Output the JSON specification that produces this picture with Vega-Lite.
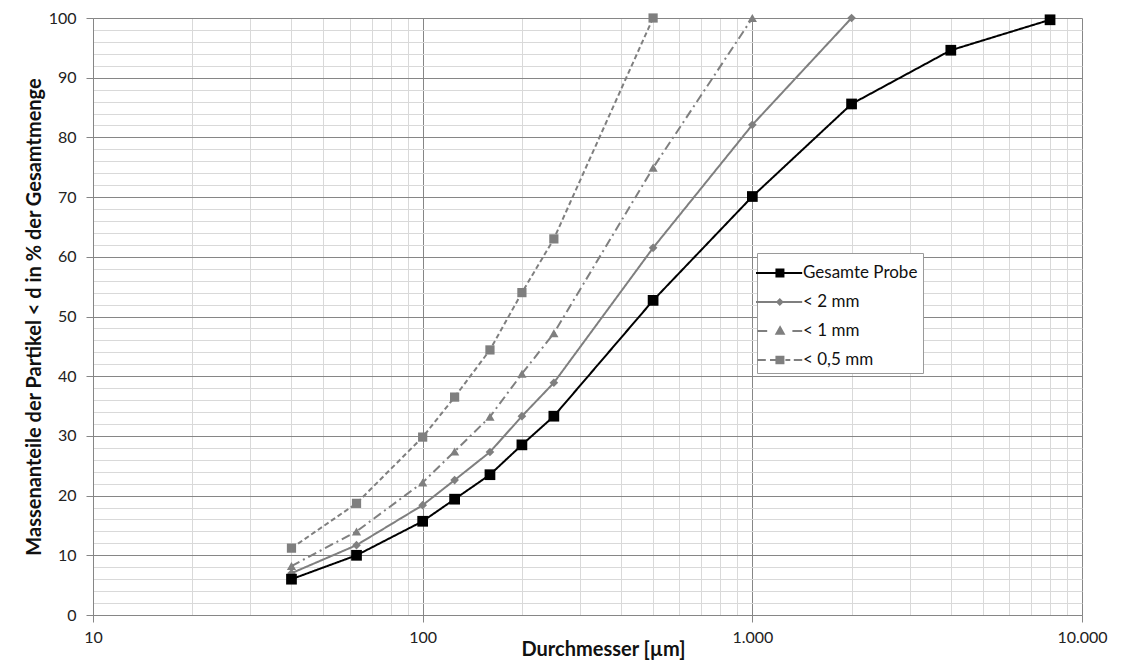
{
  "$schema": "https://vega.github.io/schema/vega-lite/v6.json",
  "autosize": "none",
  "width": 989,
  "height": 597,
  "padding": {"left": 93, "top": 18, "right": 43, "bottom": 49},
  "background": "white",
  "config": {
    "font": "Lato",
    "view": {"stroke": null},
    "axis": {
      "labelFont": "Lato",
      "titleFont": "Lato",
      "labelFontSize": 16,
      "labelColor": "#222222",
      "titleFontSize": 20,
      "titleFontWeight": "bold",
      "titleColor": "#111111",
      "domainColor": "#868686",
      "tickColor": "#868686",
      "tickSize": 7
    }
  },
  "data": {
    "values": [
      {"d": 40, "p": 6.0, "s": "Gesamte Probe"},
      {"d": 63, "p": 10.0, "s": "Gesamte Probe"},
      {"d": 100, "p": 15.7, "s": "Gesamte Probe"},
      {"d": 125, "p": 19.4, "s": "Gesamte Probe"},
      {"d": 160, "p": 23.5, "s": "Gesamte Probe"},
      {"d": 200, "p": 28.5, "s": "Gesamte Probe"},
      {"d": 250, "p": 33.3, "s": "Gesamte Probe"},
      {"d": 500, "p": 52.7, "s": "Gesamte Probe"},
      {"d": 1000, "p": 70.1, "s": "Gesamte Probe"},
      {"d": 2000, "p": 85.6, "s": "Gesamte Probe"},
      {"d": 4000, "p": 94.6, "s": "Gesamte Probe"},
      {"d": 8000, "p": 99.7, "s": "Gesamte Probe"},
      {"d": 40, "p": 7.0, "s": "< 2 mm"},
      {"d": 63, "p": 11.7, "s": "< 2 mm"},
      {"d": 100, "p": 18.4, "s": "< 2 mm"},
      {"d": 125, "p": 22.6, "s": "< 2 mm"},
      {"d": 160, "p": 27.3, "s": "< 2 mm"},
      {"d": 200, "p": 33.3, "s": "< 2 mm"},
      {"d": 250, "p": 38.9, "s": "< 2 mm"},
      {"d": 500, "p": 61.5, "s": "< 2 mm"},
      {"d": 1000, "p": 82.1, "s": "< 2 mm"},
      {"d": 2000, "p": 100, "s": "< 2 mm"},
      {"d": 40, "p": 8.2, "s": "< 1 mm"},
      {"d": 63, "p": 14.0, "s": "< 1 mm"},
      {"d": 100, "p": 22.2, "s": "< 1 mm"},
      {"d": 125, "p": 27.4, "s": "< 1 mm"},
      {"d": 160, "p": 33.2, "s": "< 1 mm"},
      {"d": 200, "p": 40.4, "s": "< 1 mm"},
      {"d": 250, "p": 47.2, "s": "< 1 mm"},
      {"d": 500, "p": 74.9, "s": "< 1 mm"},
      {"d": 1000, "p": 100, "s": "< 1 mm"},
      {"d": 40, "p": 11.2, "s": "< 0,5 mm"},
      {"d": 63, "p": 18.7, "s": "< 0,5 mm"},
      {"d": 100, "p": 29.8, "s": "< 0,5 mm"},
      {"d": 125, "p": 36.5, "s": "< 0,5 mm"},
      {"d": 160, "p": 44.4, "s": "< 0,5 mm"},
      {"d": 200, "p": 54.0, "s": "< 0,5 mm"},
      {"d": 250, "p": 63.0, "s": "< 0,5 mm"},
      {"d": 500, "p": 100, "s": "< 0,5 mm"}
    ]
  },
  "encoding": {
    "x": {
      "field": "d",
      "type": "quantitative",
      "title": "Durchmesser [µm]",
      "scale": {"type": "log", "domain": [10, 10000], "nice": false},
      "axis": {
        "values": [10, 20, 30, 40, 50, 60, 70, 80, 90, 100, 200, 300, 400, 500, 600, 700, 800, 900, 1000, 2000, 3000, 4000, 5000, 6000, 7000, 8000, 9000, 10000],
        "labelExpr": "abs(log(datum.value)/LN10 - round(log(datum.value)/LN10)) < 0.001 ? replace(format(datum.value, ','), ',', '.') : ''",
        "grid": true,
        "gridColor": {"condition": {"test": "abs(log(datum.value)/LN10 - round(log(datum.value)/LN10)) < 0.001", "value": "#868686"}, "value": "#d9d9d9"},
        "tickOpacity": {"condition": {"test": "abs(log(datum.value)/LN10 - round(log(datum.value)/LN10)) < 0.001", "value": 1}, "value": 0},
        "labelPadding": 7,
        "labelFlush": false,
        "labelOverlap": false,
        "titlePadding": -6,
        "titleX": 510
      }
    },
    "y": {
      "field": "p",
      "type": "quantitative",
      "title": "Massenanteile der Partikel < d in % der Gesamtmenge",
      "scale": {"domain": [0, 100], "nice": false},
      "axis": {
        "values": [0, 2, 4, 6, 8, 10, 12, 14, 16, 18, 20, 22, 24, 26, 28, 30, 32, 34, 36, 38, 40, 42, 44, 46, 48, 50, 52, 54, 56, 58, 60, 62, 64, 66, 68, 70, 72, 74, 76, 78, 80, 82, 84, 86, 88, 90, 92, 94, 96, 98, 100],
        "labelExpr": "datum.value % 10 === 0 ? datum.label : ''",
        "grid": true,
        "gridColor": {"condition": {"test": "datum.value % 10 === 0", "value": "#868686"}, "value": "#d9d9d9"},
        "tickOpacity": {"condition": {"test": "datum.value % 10 === 0", "value": 1}, "value": 0},
        "labelPadding": 10,
        "labelOverlap": false,
        "titlePadding": 4
      }
    }
  },
  "layer": [
    {
      "transform": [{"filter": "datum.d < 0"}],
      "mark": {"type": "point", "filled": true, "opacity": 1},
      "encoding": {
        "shape": {
          "field": "s",
          "type": "nominal",
          "title": null,
          "scale": {"domain": ["Gesamte Probe", "< 2 mm", "< 1 mm", "< 0,5 mm"], "range": [
            "M-1.5,0H1.8M-0.04,-0.25H0.46V0.25H-0.04Z",
            "M-1.5,0H1.8M0.2,-0.18L0.38,0L0.2,0.18L0.02,0Z",
            "M-1.4,0H-0.7M1.1,0H1.8M0.22,-0.26L0.48,0.2H-0.04Z",
            "M-1.4,0H-0.8M-0.5,0H-0.1M0.6,0H0.95M1.2,0H1.8M-0.04,-0.24H0.46V0.24H-0.04Z"
          ]},
          "legend": {
            "title": null,
            "orient": "none",
            "legendX": 664,
            "legendY": 235,
            "symbolSize": 784,
            "symbolStrokeWidth": 2,
            "symbolOpacity": 1,
            "labelFont": "Lato",
            "labelFontSize": 17,
            "labelColor": "#111111",
            "labelOffset": 11,
            "rowPadding": 6,
            "padding": 5,
            "strokeColor": "#9a9a9a",
            "fillColor": "white"
          }
        },
        "fill": {
          "field": "s",
          "type": "nominal",
          "title": null,
          "scale": {"domain": ["Gesamte Probe", "< 2 mm", "< 1 mm", "< 0,5 mm"], "range": ["#000000", "#7f7f7f", "#7f7f7f", "#7f7f7f"]}
        },
        "stroke": {
          "field": "s",
          "type": "nominal",
          "title": null,
          "scale": {"domain": ["Gesamte Probe", "< 2 mm", "< 1 mm", "< 0,5 mm"], "range": ["#000000", "#7f7f7f", "#7f7f7f", "#7f7f7f"]}
        }
      }
    },
    {
      "mark": {"type": "line", "strokeWidth": 2},
      "encoding": {
        "color": {
          "field": "s",
          "type": "nominal",
          "scale": {"range": ["#7f7f7f", "#7f7f7f", "#7f7f7f", "#000000"]},
          "legend": null
        },
        "strokeDash": {
          "field": "s",
          "type": "nominal",
          "scale": {"range": [[5, 3], [9, 4, 2, 4], [1, 0], [1, 0]]},
          "legend": null
        }
      }
    },
    {
      "transform": [{"filter": "datum.s === '< 0,5 mm'"}],
      "mark": {"type": "point", "filled": true, "opacity": 1, "shape": "square", "size": 85, "color": "#7f7f7f"}
    },
    {
      "transform": [{"filter": "datum.s === '< 1 mm'"}],
      "mark": {"type": "point", "filled": true, "opacity": 1, "shape": "triangle-up", "size": 85, "color": "#7f7f7f"}
    },
    {
      "transform": [{"filter": "datum.s === '< 2 mm'"}],
      "mark": {"type": "point", "filled": true, "opacity": 1, "shape": "diamond", "size": 75, "color": "#7f7f7f"}
    },
    {
      "transform": [{"filter": "datum.s === 'Gesamte Probe'"}],
      "mark": {"type": "point", "filled": true, "opacity": 1, "shape": "square", "size": 115, "color": "#000000"}
    }
  ]
}
